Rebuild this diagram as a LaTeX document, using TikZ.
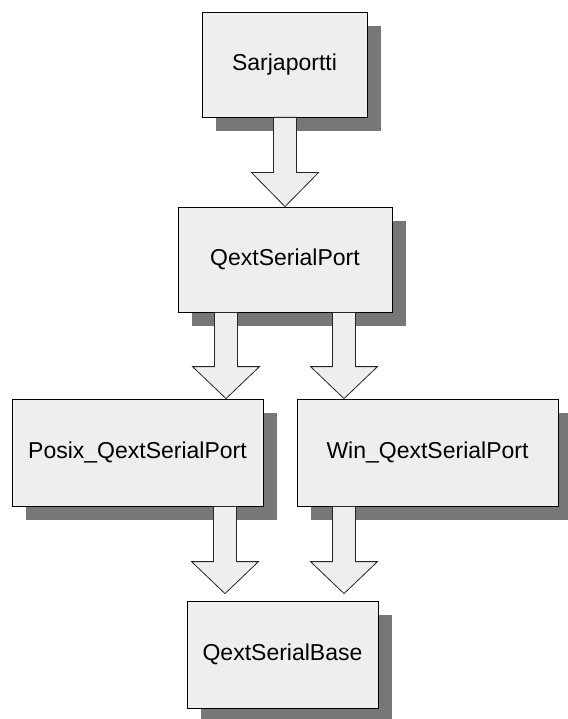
\documentclass[tikz,border=0pt]{standalone}
\usepackage{fontspec}
\setmainfont{Liberation Sans}
\usetikzlibrary{shadows,calc}
\definecolor{boxfill}{HTML}{EEEEEE}
\definecolor{shadowgray}{HTML}{777777}
\tikzset{
  classbox/.style={draw=black, line width=0.8pt, fill=boxfill, rectangle,
    inner sep=0pt, font=\fontsize{23}{27}\selectfont,
    drop shadow={shadow xshift=14pt, shadow yshift=-14pt, fill=shadowgray, opacity=1}},
  blockarrowstyle/.style={draw=black!85, line width=0.8pt, fill=boxfill, line join=miter}
}
\newcommand\blockarrow[3][32pt]{%
  \draw[blockarrowstyle] let \p1=#2, \p2=#3 in
    (\x2-11.5pt,\y1) -- (\x2+11.5pt,\y1) -- (\x2+11.5pt,\y2+#1) -- (\x2+33.5pt,\y2+#1)
    -- (\x2,\y2) -- (\x2-33.5pt,\y2+#1) -- (\x2-11.5pt,\y2+#1) -- cycle;}
\begin{document}
\begin{tikzpicture}[x=1pt,y=-1pt]
\useasboundingbox (0,0) rectangle (567,719);
\node[classbox, minimum width=165pt, minimum height=105pt] (b1) at (284.5,64.5) {Sarjaportti};
\node[classbox, minimum width=214pt, minimum height=105pt] (b2) at (285,259.5) {QextSerialPort};
\node[classbox, minimum width=251pt, minimum height=107pt] (b3) at (137.5,452.5) {Posix\_QextSerialPort};
\node[classbox, minimum width=261pt, minimum height=107pt] (b4) at (427.5,452.5) {Win\_QextSerialPort};
\node[classbox, minimum width=191pt, minimum height=107pt] (b5) at (282.5,654.5) {QextSerialBase};
\blockarrow[34pt]{(b1.south)}{(b2.north)}
\blockarrow{(b2.south)}{([xshift=-59pt]b2.south |- b3.north)}
\blockarrow{(b2.south)}{([xshift=59pt]b2.south |- b4.north)}
\blockarrow{(b3.south)}{([xshift=-57.5pt,yshift=7pt]b5.north)}
\blockarrow{(b4.south)}{([xshift=61.5pt,yshift=7pt]b5.north)}
\end{tikzpicture}
\end{document}
